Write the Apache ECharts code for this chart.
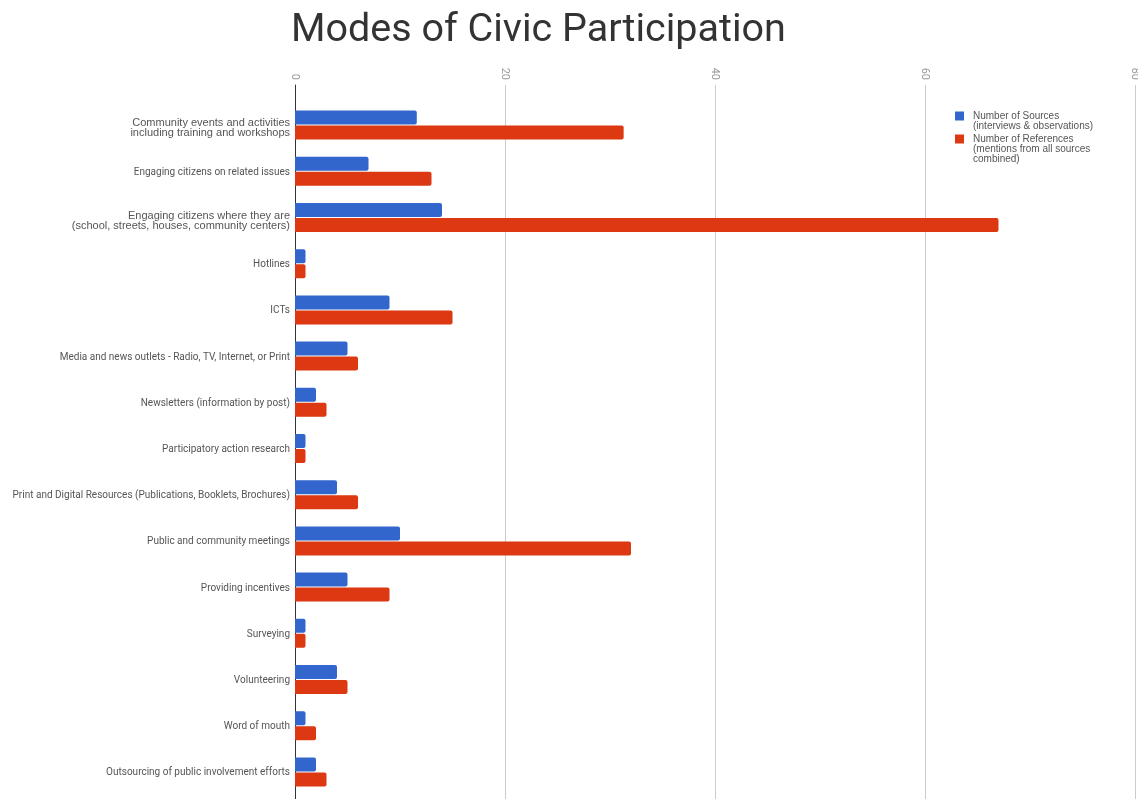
<!DOCTYPE html>
<html><head><meta charset="utf-8">
<script src="https://cdn.jsdelivr.net/npm/echarts@6/dist/echarts.min.js"></script>
<style>html,body{margin:0;padding:0;background:#fff}#c{width:1138px;height:799px}</style>
</head><body><div id="c"></div>
<script>
const categories = [
  "Community events and activities\nincluding training and workshops",
  "Engaging citizens on related issues",
  "Engaging citizens where they are\n(school, streets, houses, community centers)",
  "Hotlines",
  "ICTs",
  "Media and news outlets - Radio, TV, Internet, or Print",
  "Newsletters (information by post)",
  "Participatory action research",
  "Print and Digital Resources (Publications, Booklets, Brochures)",
  "Public and community meetings",
  "Providing incentives",
  "Surveying",
  "Volunteering",
  "Word of mouth",
  "Outsourcing of public involvement efforts"
];
const sources =    [11.6, 7, 14, 1, 9, 5, 2, 1, 4, 10, 5, 1, 4, 1, 2];
const references = [31.3, 13, 67, 1, 15, 6, 3, 1, 6, 32, 9, 1, 5, 2, 3];
const xTicks = [0, 20, 40, 60, 80];
const seriesNames = ['Number of Sources\n(interviews & observations)', 'Number of References\n(mentions from all sources\ncombined)'];

const chart = echarts.init(document.getElementById('c'));
chart.setOption({
  animation: false,
  title: {
    text: 'Modes of Civic Participation', left: 286, top: 6,
    textStyle: {fontFamily: 'Roboto', fontSize: 39.5, fontWeight: 'normal', color: '#333'}
  },
  legend: {
    orient: 'vertical', left: 950, top: 96, itemWidth: 9, itemHeight: 9, itemGap: -17,
    icon: 'rect',
    formatter: name => {
      const lines = name.split('\n');
      const pad = [];
      for (let i = 1; i < lines.length; i++) pad.push('{t| }');
      return pad.concat(lines.map(l => '{t|' + l + '}')).join('\n');
    },
    textStyle: {
      fontFamily: 'Liberation Sans', fontSize: 10, color: '#555', lineHeight: 10,
      rich: {t: {fontFamily: 'Liberation Sans', fontSize: 10, color: '#555', lineHeight: 10, padding: [0, 0, 0, 4]}}
    },
    data: seriesNames
  },
  grid: [
    {left: 295, right: 3, top: 102, bottom: 4, outerBoundsMode: 'none', containLabel: false},
    {left: 295, right: 3, top: 85, bottom: 0, outerBoundsMode: 'none', containLabel: false}
  ],
  xAxis: [
    {type: 'value', gridIndex: 0, min: 0, max: 80, interval: 20,
     axisLine: {show: false}, axisTick: {show: false}, axisLabel: {show: false}, splitLine: {show: false}},
    {type: 'value', gridIndex: 1, position: 'top', min: 0, max: 80, interval: 20,
     axisLine: {show: false}, axisTick: {show: false},
     axisLabel: {rotate: -90, color: '#999', fontFamily: 'Roboto', fontSize: 11, margin: 5,
       formatter: v => xTicks.includes(v) ? String(v) : ''},
     splitLine: {lineStyle: {color: '#ccc', width: 1}}}
  ],
  yAxis: [
    {type: 'category', gridIndex: 0, inverse: true, data: categories,
     axisLine: {show: false}, axisTick: {show: false},
     axisLabel: {
       color: '#555', fontFamily: 'Roboto', fontSize: 10, lineHeight: 11, margin: 5,
       formatter: v => v.indexOf('\n') >= 0
         ? '{s| }\n' + v.split('\n').map(s => '{b|' + s + '}').join('\n')
         : '{r|' + v + '}',
       rich: {
         s: {fontSize: 6, lineHeight: 6},
         b: {fontFamily: 'Liberation Sans', fontSize: 11, lineHeight: 10, color: '#555', align: 'right'},
         r: {fontFamily: 'Roboto', fontSize: 10, lineHeight: 11, color: '#555', padding: [2, 0, 0, 0]}
       }
     }},
    {type: 'value', gridIndex: 1, min: 0, max: 1, position: 'left',
     axisLine: {show: true, onZero: false, lineStyle: {color: '#333', width: 1}},
     axisTick: {show: false}, axisLabel: {show: false}, splitLine: {show: false}}
  ],
  series: [
    {name: seriesNames[0], type: 'bar', data: sources, xAxisIndex: 0, yAxisIndex: 0,
     barWidth: 14, barGap: '7%', barCategoryGap: '37%', z: 3,
     itemStyle: {color: '#3366cc', borderRadius: [0, 2, 2, 0]}},
    {name: seriesNames[1], type: 'bar', data: references, xAxisIndex: 0, yAxisIndex: 0,
     barWidth: 14, barGap: '7%', z: 3,
     itemStyle: {color: '#dc3912', borderRadius: [0, 2, 2, 0]}}
  ]
});
</script></body></html>
